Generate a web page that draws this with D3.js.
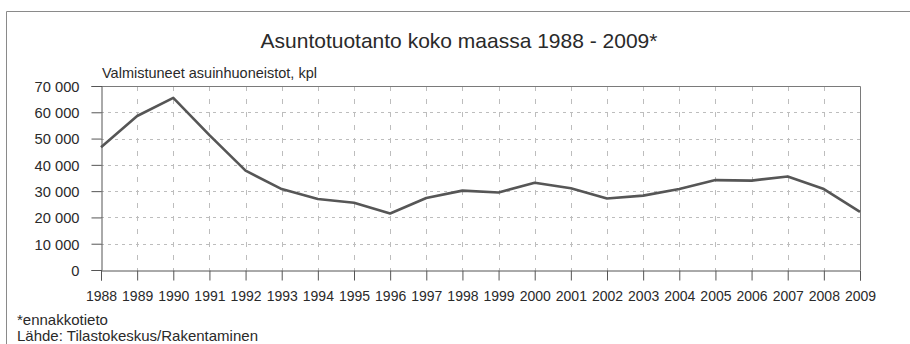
<!DOCTYPE html>
<html>
<head>
<meta charset="utf-8">
<script src="https://cdn.jsdelivr.net/npm/d3@7"></script>
<style>
  html, body { margin: 0; padding: 0; background: #fff; }
  svg { display: block; }
  text { font-family: "Liberation Sans", Arial, Helvetica, sans-serif; fill: #2a2a2a; }
</style>
</head>
<body>
<svg id="chart" width="910" height="344"></svg>
<script>
const years = [1988, 1989, 1990, 1991, 1992, 1993, 1994, 1995, 1996, 1997, 1998,
               1999, 2000, 2001, 2002, 2003, 2004, 2005, 2006, 2007, 2008, 2009];
const completed = [46700, 58600, 65500, 51300, 37800, 30800, 27000, 25600, 21500, 27400, 30200,
                   29500, 33200, 31100, 27200, 28300, 30800, 34200, 34000, 35600, 30800, 22100];
const yTicks = [0, 10000, 20000, 30000, 40000, 50000, 60000, 70000];
const titleText = "Asuntotuotanto koko maassa 1988 - 2009*";
const subtitleText = "Valmistuneet asuinhuoneistot, kpl";
const noteTexts = ["*ennakkotieto", "Lähde: Tilastokeskus/Rakentaminen"];

const svg = d3.select("#chart");
const pLeft = 101, pRight = 860, pTop = 86, pBottom = 270;

const x = d3.scaleLinear().domain([years[0], years[years.length - 1]]).range([pLeft, pRight]);
const y = d3.scaleLinear().domain([0, 70000]).range([pBottom, pTop]);

// outer frame (top and left edges)
svg.append("path")
  .attr("d", `M6.5,344 V11.5 H910`)
  .attr("fill", "none").attr("stroke", "#8a8a8a").attr("stroke-width", 1);

// title & subtitle
svg.append("text").attr("x", 459).attr("y", 48).attr("text-anchor", "middle")
  .attr("font-size", "21px").text(titleText);
svg.append("text").attr("x", 102).attr("y", 77.5)
  .attr("font-size", "14.5px").text(subtitleText);

// grid
const fmt = d => d === 0 ? "0" : d3.format(",")(d).replace(/,/g, " ");
svg.append("g").selectAll("line").data(yTicks.filter(v => v > 0 && v < 70000)).join("line")
  .attr("x1", pLeft).attr("x2", pRight)
  .attr("y1", d => Math.round(y(d)) + 0.5).attr("y2", d => Math.round(y(d)) + 0.5)
  .attr("stroke", "#bdbdbd").attr("stroke-width", 1).attr("stroke-dasharray", "3,4");
svg.append("g").selectAll("line").data(years.slice(1, -1)).join("line")
  .attr("x1", d => Math.round(x(d)) + 0.5).attr("x2", d => Math.round(x(d)) + 0.5)
  .attr("y1", pTop).attr("y2", pBottom)
  .attr("stroke", "#bdbdbd").attr("stroke-width", 1).attr("stroke-dasharray", "5,8");

// plot border top & right
svg.append("path")
  .attr("d", `M${pLeft},${pTop + 0.5} H${pRight + 0.5} V${pBottom}`)
  .attr("fill", "none").attr("stroke", "#7a7a7a").attr("stroke-width", 1);

// y axis
const yAxis = svg.append("g").attr("transform", `translate(${pLeft + 0.5},0)`)
  .call(d3.axisLeft(y).tickValues(yTicks).tickSize(10).tickPadding(12).tickFormat(fmt));
yAxis.select(".domain").attr("stroke", "#555");
yAxis.selectAll(".tick line").attr("stroke", "#555");
yAxis.selectAll(".tick text").attr("font-size", "14.7px").attr("fill", "#2a2a2a")
  .attr("font-family", "Liberation Sans, Arial, sans-serif").attr("dy", "0.36em");

// x axis
const xAxis = svg.append("g").attr("transform", `translate(0,${pBottom + 0.5})`)
  .call(d3.axisBottom(x).tickValues(years).tickSize(10).tickPadding(11).tickFormat(d3.format("d")));
xAxis.select(".domain").attr("stroke", "#555");
xAxis.selectAll(".tick line").attr("stroke", "#555");
xAxis.selectAll(".tick text").attr("font-size", "14px").attr("fill", "#2a2a2a")
  .attr("font-family", "Liberation Sans, Arial, sans-serif");

// data line
svg.append("path")
  .datum(years.map((yr, i) => [yr, completed[i]]))
  .attr("fill", "none").attr("stroke", "#565656").attr("stroke-width", 2.6)
  .attr("stroke-linejoin", "round")
  .attr("d", d3.line().x(d => x(d[0])).y(d => y(d[1])));

// notes
svg.append("g").selectAll("text").data(noteTexts).join("text")
  .attr("x", 17).attr("y", (d, i) => 324.5 + i * 16.5)
  .attr("font-size", "15px").text(d => d);
</script>
</body>
</html>
